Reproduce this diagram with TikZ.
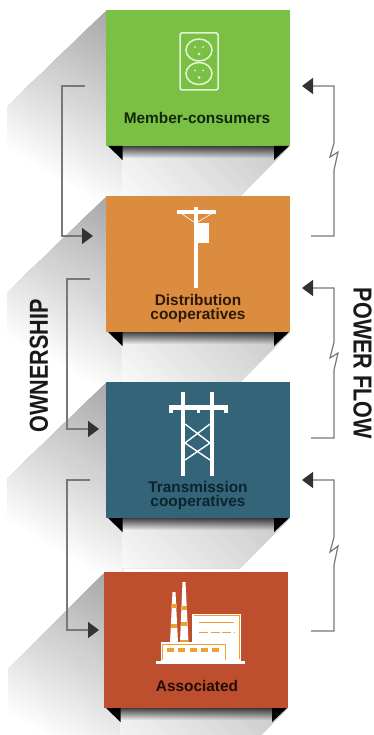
\documentclass[tikz,border=0pt]{standalone}
\usepackage{fontspec}
\setmainfont{Liberation Sans}
\usetikzlibrary{arrows.meta,fadings}
\definecolor{cgreen}{HTML}{7AC045}
\definecolor{corange}{HTML}{DB8C3F}
\definecolor{cteal}{HTML}{336478}
\definecolor{cred}{HTML}{BE4F2E}
\definecolor{linegray}{HTML}{787878}
\definecolor{tipdark}{HTML}{333333}
\definecolor{factory}{HTML}{F0A030}
\definecolor{iconsoft}{HTML}{E4F4D4}
\definecolor{txgreen}{HTML}{14260C}
\definecolor{txorange}{HTML}{2C1A08}
\definecolor{txteal}{HTML}{0C2430}
\definecolor{txred}{HTML}{220C05}
\tikzset{
  box/.style={rectangle,minimum width=184pt,minimum height=136pt,inner sep=0pt,outer sep=0pt},
  lab/.style={font=\fontsize{15.4}{14}\selectfont\bfseries,align=center,inner sep=0pt},
  side/.style={font=\fontsize{26}{26}\selectfont\bfseries,inner sep=0pt,text=black!90},
  conn/.style={draw=linegray,line width=1.2pt,-{Triangle[length=11pt,width=16pt,color=tipdark]}},
  iconline/.style={draw=iconsoft,line width=1.5pt},
  tri/.style={fill=black}
}
% gradient made of half planes: anchor (#1,#2), unit direction towards dark (#3,#4), length #5, darkest grey #6
\newcommand{\bandfill}[6]{%
  \foreach \k in {0,...,44}{
    \pgfmathsetmacro{\gv}{#6+(255-#6)*\k/44}
    \pgfmathsetmacro{\px}{#1-#5*\k/44*(#3)}
    \pgfmathsetmacro{\py}{#2-#5*\k/44*(#4)}
    \pgfmathsetmacro{\vx}{-(#4)*500}
    \pgfmathsetmacro{\vy}{(#3)*500}
    \pgfmathsetmacro{\wx}{-(#3)*700}
    \pgfmathsetmacro{\wy}{-(#4)*700}
    \fill[fill={rgb,255:red,\gv;green,\gv;blue,\gv}]
      (\px+\vx,\py+\vy) -- (\px-\vx,\py-\vy) -- (\px-\vx+\wx,\py-\vy+\wy) -- (\px+\vx+\wx,\py+\vy+\wy) -- cycle;
  }
}
% #1 x of left edge, #2 top y, #3 x of left shadow limit, #4 depth of the lower shadow
\newcommand{\longshadow}[4]{%
  \begin{scope}
    \clip (#1+1,#2) -- (#3,#2+97) -- (#3,#2+196) -- (#1+17,#2+196) -- (#1+17,#2) -- cycle;
    \bandfill{#1}{#2}{0.5}{-0.866}{170}{168}
  \end{scope}
  \fill[white] (#3-1,#2+195.2) rectangle (#1+18,#2+197);
  \begin{scope}
    \clip (#1+16,#2+136) -- (#1+184,#2+136) -- (#1+184-#4,#2+136+#4) -- (#1+16,#2+136+#4) -- cycle;
    \bandfill{#1+184}{#2+136}{0.707}{-0.707}{170}{200}
  \end{scope}
  \fill[black,path fading=south,opacity=.72] (#1+16,#2+136) rectangle (#1+168,#2+148);
}
\newcommand{\corners}[2]{%
  \fill[tri] (#1+2,#2+136) -- (#1+16.5,#2+136) -- (#1+16.5,#2+150) -- cycle;
  \fill[tri] (#1+168,#2+150) -- (#1+168,#2+136) -- (#1+183,#2+136) -- cycle;
}
\begin{document}
\begin{tikzpicture}[x=1pt,y=-1pt]
\useasboundingbox (0,0) rectangle (374,735);
\fill[white] (0,0) rectangle (374,735);

% shadows
\longshadow{106}{10}{7}{50}
\longshadow{106}{196}{7}{50}
\longshadow{106}{382}{7}{50}
\longshadow{104}{572}{8}{27}

% boxes
\node[box,fill=cgreen]  (member) at (198,78) {};
\node[box,fill=corange] (dist)   at (198,264) {};
\node[box,fill=cteal]   (trans)  at (198,450) {};
\node[box,fill=cred]    (assoc)  at (196,640) {};
\corners{106}{10}
\corners{106}{196}
\corners{106}{382}
\corners{104}{572}

% outlet icon
\draw[iconline,rounded corners=1.5pt] (180,33) rectangle (218,90);
\draw[iconline] (199,50) ellipse [x radius=13,y radius=11];
\draw[iconline] (199,73.5) ellipse [x radius=13,y radius=11];
\foreach \yy in {50,73.5}{
  \fill[iconsoft] (195,\yy-3) circle (1);
  \fill[iconsoft] (203,\yy-3) circle (1);
  \fill[iconsoft] (199,\yy+4) circle (1.5);
}

% pole icon
\fill[white] (177,210) rectangle (216,214);
\fill[white] (193.5,207) rectangle (198,288);
\fill[white] (196,223) rectangle (209,243);
\draw[white,line width=.6pt] (182,214) -- (194,222) (211,214) -- (198,222);

% tower icon
\fill[white] (169,404.5) rectangle (228,409.5);
\fill[white] (169,404.5) rectangle (173,413);
\fill[white] (224,404.5) rectangle (228,413);
\fill[white] (196.5,404.5) rectangle (200,413);
\fill[white] (181,392) rectangle (185,476);
\fill[white] (210,392) rectangle (214,476);
\draw[white,line width=1.4pt] (185,424) -- (210,443) -- (185,460) (210,424) -- (185,443) -- (210,460);

% factory icon
\fill[white] (172.5,592) -- (175.5,592) -- (178,643) -- (170,643) -- cycle;
\fill[white] (182.5,582) -- (185.5,582) -- (188.5,643) -- (180,643) -- cycle;
\foreach \yy/\cx/\hw in {604/174/2.6,624/174/3.2,606/184/2.5,622/184/3,640/184/3.6}{
  \fill[factory] (\cx-\hw,\yy) rectangle (\cx+\hw,\yy+4);
}
\fill[white] (192,614) rectangle (241,661);
\draw[factory,line width=.8pt] (193.5,615.5) -- (239.5,615.5) -- (239.5,659);
\draw[factory,line width=.9pt] (199,622) -- (234,622);
\draw[factory,line width=.9pt,dash pattern=on 9pt off 2.5pt] (199,632.5) -- (234,632.5);
\fill[white] (161,642) rectangle (227,661);
\draw[factory,line width=.9pt] (162.5,660) -- (162.5,644) -- (225,644) -- (225,660);
\foreach \xx in {167,178,189.5,200.5,212}{
  \fill[factory] (\xx,648) rectangle (\xx+7,652);
}
\fill[white] (155.5,661) rectangle (245,664);

% labels
\node[lab,text=txgreen] (lmember) at (197,118) {Member-consumers};
\node[lab,text=txorange] (ldist) at (198,309) {Distribution\\cooperatives};
\node[lab,text=txteal] (ltrans) at (198,495.5) {Transmission\\cooperatives};
\node[lab,text=txred] (lassoc) at (197,686) {Associated};
\node[side,rotate=90] (own) at (39,366) {\scalebox{.83}[1]{OWNERSHIP}};
\node[side,rotate=-90] (pow) at (362.5,363.5) {\scalebox{.83}[1]{POWER FLOW}};

% connector ends
\coordinate (oa1) at (85,86);
\coordinate (oa2) at (93,236);
\coordinate (ob1) at (90,279);
\coordinate (ob2) at (99,429);
\coordinate (oc1) at (90,480);
\coordinate (oc2) at (99,630);
\coordinate (pa1) at (311,236);
\coordinate (pa2) at (302,86);
\coordinate (pb1) at (311,438);
\coordinate (pb2) at (302,288);
\coordinate (pc1) at (311,631);
\coordinate (pc2) at (302,480);

% ownership connectors
\draw[conn] (oa1) -- (62,86) -- (62,236) -- (oa2);
\draw[conn] (ob1) -- (67,279) -- (67,429) -- (ob2);
\draw[conn] (oc1) -- (67,480) -- (67,630) -- (oc2);

% power flow connectors
\draw[conn] (pa1) -- (334,236) -- (334,170) -- (338,152) -- (330,157) -- (334,143) -- (334,86) -- (pa2);
\draw[conn] (pb1) -- (334,438) -- (334,370) -- (338,353) -- (330,358) -- (334,342) -- (334,288) -- (pb2);
\draw[conn] (pc1) -- (334,631) -- (334,565) -- (338,546) -- (330,552) -- (334,537) -- (334,480) -- (pc2);
\end{tikzpicture}
\end{document}
